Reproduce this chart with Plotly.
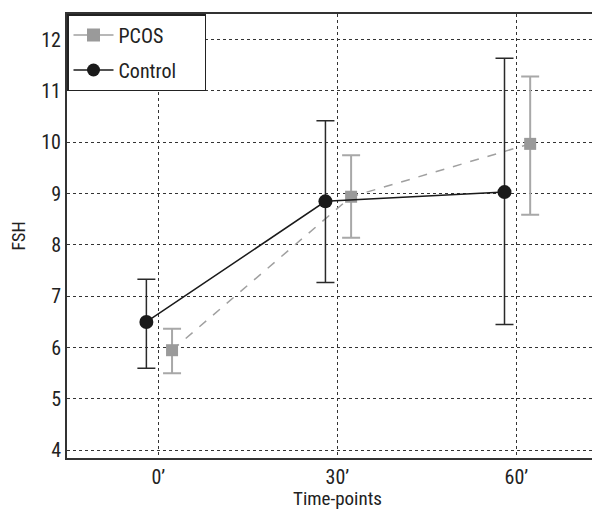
import plotly.graph_objects as go

timepoints = [0, 30, 60]
tick_labels = ["0’", "30’", "60’"]
pcos_mean = [5.95, 8.94, 9.97]
pcos_upper = [6.37, 9.75, 11.28]
pcos_lower = [5.50, 8.14, 8.59]
ctrl_mean = [6.50, 8.85, 9.03]
ctrl_upper = [7.33, 10.42, 11.64]
ctrl_lower = [5.60, 7.27, 6.45]

ctrl_off = -2.0
pcos_off = 2.3

font_fam = "Liberation Sans Narrow, Roboto Condensed, Arial Narrow, sans-serif"
PCOS_LINE = "#a0a0a0"
PCOS_MARK = "#9a9a9a"
CTRL = "#1a1a1a"
PAD = "\u00a0" * 5

fig = go.Figure()
fig.add_trace(go.Scatter(
    x=[t + pcos_off for t in timepoints], y=pcos_mean, name="PCOS",
    mode="lines+markers", showlegend=False,
    line=dict(color=PCOS_LINE, width=1.5, dash="dash"),
    marker=dict(symbol="square", size=12, color=PCOS_MARK),
    error_y=dict(type="data", symmetric=False,
                 array=[u - m for u, m in zip(pcos_upper, pcos_mean)],
                 arrayminus=[m - l for m, l in zip(pcos_mean, pcos_lower)],
                 color="#a8a8a8", thickness=2, width=9),
))
fig.add_trace(go.Scatter(
    x=[t + ctrl_off for t in timepoints], y=ctrl_mean, name="Control",
    mode="lines+markers", showlegend=False,
    line=dict(color=CTRL, width=1.5),
    marker=dict(symbol="circle", size=14, color=CTRL),
    error_y=dict(type="data", symmetric=False,
                 array=[u - m for u, m in zip(ctrl_upper, ctrl_mean)],
                 arrayminus=[m - l for m, l in zip(ctrl_mean, ctrl_lower)],
                 color="#2a2a2a", thickness=1.5, width=9),
))
# legend entries (solid line samples, as in the reference legend)
fig.add_trace(go.Scatter(
    x=[None], y=[None], name="PCOS" + PAD, mode="lines+markers", legendgroup="a",
    line=dict(color=PCOS_LINE, width=1.5),
    marker=dict(symbol="square", size=13, color=PCOS_MARK),
))
fig.add_trace(go.Scatter(
    x=[None], y=[None], name="Control" + PAD, mode="lines+markers", legendgroup="b",
    line=dict(color=CTRL, width=1.5),
    marker=dict(symbol="circle", size=13, color=CTRL),
))

fig.add_annotation(text="Time-points", xref="paper", yref="paper", x=(337 - 67) / 533,
                   y=0, yanchor="top", yshift=-27, showarrow=False,
                   font=dict(size=19, family=font_fam, color="#222"))

fig.update_layout(
    width=592, height=502,
    margin=dict(l=59, r=0, t=6, b=52),
    plot_bgcolor="white", paper_bgcolor="white",
    font=dict(family=font_fam, size=20, color="#222"),
    showlegend=True,
    legend=dict(x=0, y=1, xanchor="left", yanchor="top",
                bordercolor="#222", borderwidth=1.5, bgcolor="white",
                font=dict(size=20), itemwidth=40, tracegroupgap=6),
    xaxis=dict(range=[-15.3, 74], tickvals=timepoints, ticktext=tick_labels,
               showgrid=True, gridcolor="#333", griddash="dot", gridwidth=1,
               showline=True, linecolor="#333", linewidth=2, mirror=True,
               zeroline=False, ticks="", automargin=False,
               tickfont=dict(size=20)),
    yaxis=dict(range=[3.85, 12.5], tickvals=list(range(4, 13)),
               showgrid=True, gridcolor="#333", griddash="dot", gridwidth=1,
               showline=True, linecolor="#333", linewidth=2, mirror=False,
               zeroline=False, ticks="", automargin=False,
               title=dict(text="FSH", standoff=12, font=dict(size=18)),
               tickfont=dict(size=20)),
)

fig.write_html("out.html")
